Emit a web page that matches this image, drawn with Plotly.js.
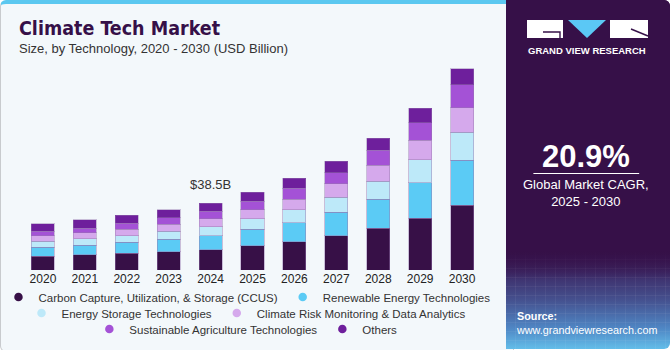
<!DOCTYPE html>
<html>
<head>
<meta charset="utf-8">
<script src="https://cdn.plot.ly/plotly-3.0.1.min.js"></script>
<style>
  html, body { margin: 0; padding: 0; width: 671px; height: 350px; overflow: hidden; background: #ffffff; }
  #card { position: absolute; left: 0; top: 0; width: 512px; height: 347px; background: #f3f8fb;
          border: 1px solid #c8cbce; border-top: 4px solid #5bc8f0; border-radius: 6px 0 0 6px; }
  #side { position: absolute; left: 506px; top: 0; width: 164px; height: 349px; border-radius: 0 6px 6px 0;
          background:
            repeating-linear-gradient(90deg, rgba(255,255,255,0.0) 0px, rgba(255,255,255,0.0) 9px, rgba(255,255,255,0.10) 10px),
            linear-gradient(to bottom, #361048 0%, #361048 70%, #3d2a66 78%, #45518f 86%, #4f86c4 94%, #63bde9 100%); }
  #side::after { content: ""; position: absolute; left: 0; right: 0; top: 0; bottom: 0; border-radius: 0 6px 6px 0;
          background: linear-gradient(to bottom, #361048 0%, #361048 72%, rgba(54,16,72,0) 80%),
                      repeating-linear-gradient(0deg, rgba(255,255,255,0.0) 0px, rgba(255,255,255,0.0) 8px, rgba(255,255,255,0.10) 9px); }
  #logo { position: absolute; left: 527px; top: 20px; z-index: 2; }
  #chart { position: absolute; left: 0; top: 0; z-index: 3; }
</style>
</head>
<body>
<div id="card"></div>
<div id="side"></div>
<svg id="logo" width="122" height="19" viewBox="0 0 122 19">
  <rect x="0" y="0" width="36" height="18" fill="#ffffff"/>
  <path d="M16 12 H33 V18" stroke="#361048" stroke-width="1.4" fill="none"/>
  <polygon points="41,0 79,0 60,18" fill="#5bc8f5"/>
  <rect x="83" y="0" width="38" height="18" fill="#ffffff"/>
  <path d="M104 9 L121 16" stroke="#361048" stroke-width="1.4" fill="none"/>
</svg>
<div id="chart"></div>
<script>
// ---- data ----
const years = ['2020','2021','2022','2023','2024','2025','2026','2027','2028','2029','2030'];
const ccus        = [7.95, 8.76, 9.68, 10.66, 11.81, 13.95, 16.25, 19.71, 24.09, 29.85, 37.17];
const renewable   = [5.19, 5.36, 6.17, 7.09, 8.07, 9.57, 11.12, 13.60, 16.71, 20.40, 25.93];
const storage     = [3.46, 3.86, 3.86, 4.61, 5.01, 5.99, 7.49, 8.64, 10.37, 13.25, 16.31];
const climateRisk = [3.11, 3.46, 3.63, 4.03, 4.61, 5.19, 5.94, 7.72, 9.22, 11.12, 14.06];
const agriculture = [2.48, 2.48, 3.46, 3.86, 4.38, 4.78, 6.17, 6.51, 8.47, 10.37, 13.25];
const others      = [4.44, 5.01, 4.61, 4.61, 4.61, 5.36, 5.94, 6.51, 7.09, 8.24, 9.22];
const seriesNames = ['Carbon Capture, Utilization, & Storage (CCUS)', 'Renewable Energy Technologies',
  'Energy Storage Technologies', 'Climate Risk Monitoring & Data Analytics',
  'Sustainable Agriculture Technologies', 'Others'];
const calloutYear = '2024';
const calloutLabel = '$38.5B';
const cagrLabel = '20.9%';
const cagrText = 'Global Market CAGR,<br>2025 - 2030';

const colors = ['#371047', '#5bcbf5', '#bde9f9', '#d5a9ec', '#a452d6', '#6e1f9c'];
const seriesVals = [ccus, renewable, storage, climateRisk, agriculture, others];
const legendIds = ['legend', 'legend', 'legend2', 'legend2', 'legend3', 'legend3'];

// ---- geometry helpers (pixel -> paper) ----
const W = 671, H = 350, ML = 21.5, MR = 187.5, MT = 60, MB = 80;
const PW = W - ML - MR, PH = H - MT - MB;
const px = x => (x - ML) / PW;
const py = y => (H - MB - y) / PH;

const traces = [];
seriesVals.forEach((vals, i) => {
  traces.push({
    type: 'bar', x: years, y: vals, name: seriesNames[i], showlegend: false,
    marker: { color: colors[i], line: { color: 'rgba(150,120,175,0.45)', width: 1 } },
    hoverinfo: 'x+y+name'
  });
});
seriesVals.forEach((vals, i) => {
  traces.push({
    type: 'scatter', mode: 'markers', x: [null], y: [null], name: seriesNames[i],
    legend: legendIds[i], showlegend: true,
    marker: { color: colors[i], size: 8.5, symbol: 'circle' }
  });
});

const calloutIdx = years.indexOf(calloutYear);
const calloutTotal = seriesVals.reduce((s, v) => s + v[calloutIdx], 0);

const legendFont = { family: 'Liberation Sans, Arial, sans-serif', size: 11.5, color: '#333333' };
const legendBase = { orientation: 'h', xref: 'paper', yref: 'paper', yanchor: 'middle', traceorder: 'normal',
  bgcolor: 'rgba(0,0,0,0)', font: legendFont, itemclick: false, itemdoubleclick: false,
  tracegroupgap: 0, itemwidth: 30 };

const white = '#ffffff';
const annotations = [
  { text: '<b>Climate Tech Market</b>', xref: 'paper', yref: 'paper', x: px(16), y: py(28),
    xanchor: 'left', yanchor: 'middle', showarrow: false,
    font: { family: 'DejaVu Sans Condensed, DejaVu Sans, sans-serif', size: 19.5, color: '#361048' } },
  { text: 'Size, by Technology, 2020 - 2030 (USD Billion)', xref: 'paper', yref: 'paper', x: px(16), y: py(48.5),
    xanchor: 'left', yanchor: 'middle', showarrow: false,
    font: { family: 'Liberation Sans, Arial, sans-serif', size: 13, color: '#333333' } },
  { text: calloutLabel, xref: 'x', yref: 'y', x: calloutIdx, y: calloutTotal, yshift: 9,
    xanchor: 'center', yanchor: 'bottom', showarrow: false,
    font: { family: 'Liberation Sans, Arial, sans-serif', size: 13, color: '#333333' } },
  { text: '<b>GRAND VIEW RESEARCH</b>', xref: 'paper', yref: 'paper', x: px(588), y: py(51),
    xanchor: 'center', yanchor: 'middle', showarrow: false,
    font: { family: 'Liberation Sans, Arial, sans-serif', size: 9.5, color: white } },
  { text: '<b>' + cagrLabel + '</b>', xref: 'paper', yref: 'paper', x: px(587), y: py(156),
    xanchor: 'center', yanchor: 'middle', showarrow: false,
    font: { family: 'Liberation Sans, Arial, sans-serif', size: 31, color: white } },
  { text: cagrText, xref: 'paper', yref: 'paper', x: px(587), y: py(193),
    xanchor: 'center', yanchor: 'middle', showarrow: false,
    font: { family: 'Liberation Sans, Arial, sans-serif', size: 13, color: white } },
  { text: '<b>Source:</b><br>www.grandviewresearch.com', xref: 'paper', yref: 'paper', x: px(515), y: py(323),
    xanchor: 'left', yanchor: 'middle', align: 'left', showarrow: false,
    font: { family: 'Liberation Sans, Arial, sans-serif', size: 10.8, color: white } }
];

const shapes = [
  { type: 'line', xref: 'paper', yref: 'paper', x0: px(534), x1: px(640), y0: py(173.5), y1: py(173.5),
    line: { color: white, width: 1.2 } }
];

const layout = {
  width: W, height: H,
  margin: { l: ML, r: MR, t: MT, b: MB, pad: 0, autoexpand: false },
  paper_bgcolor: 'rgba(0,0,0,0)', plot_bgcolor: 'rgba(0,0,0,0)',
  barmode: 'stack', bargap: 0.45,
  xaxis: { type: 'category', range: [-0.5, years.length - 0.5], autorange: false,
    showgrid: false, zeroline: false, showline: false, ticks: '',
    tickfont: { family: 'Liberation Sans, Arial, sans-serif', size: 12, color: '#222222' }, fixedrange: true },
  yaxis: { range: [0, 121], autorange: false, visible: false, showgrid: false, zeroline: false, fixedrange: true },
  showlegend: true,
  legend:  Object.assign({}, legendBase, { xanchor: 'right', x: px(496), y: py(297) }),
  legend2: Object.assign({}, legendBase, { xanchor: 'left', x: px(21), y: py(313) }),
  legend3: Object.assign({}, legendBase, { xanchor: 'left', x: px(89), y: py(329) }),
  annotations: annotations,
  shapes: shapes
};

Plotly.newPlot('chart', traces, layout, { displayModeBar: false, staticPlot: true });
</script>
</body>
</html>
